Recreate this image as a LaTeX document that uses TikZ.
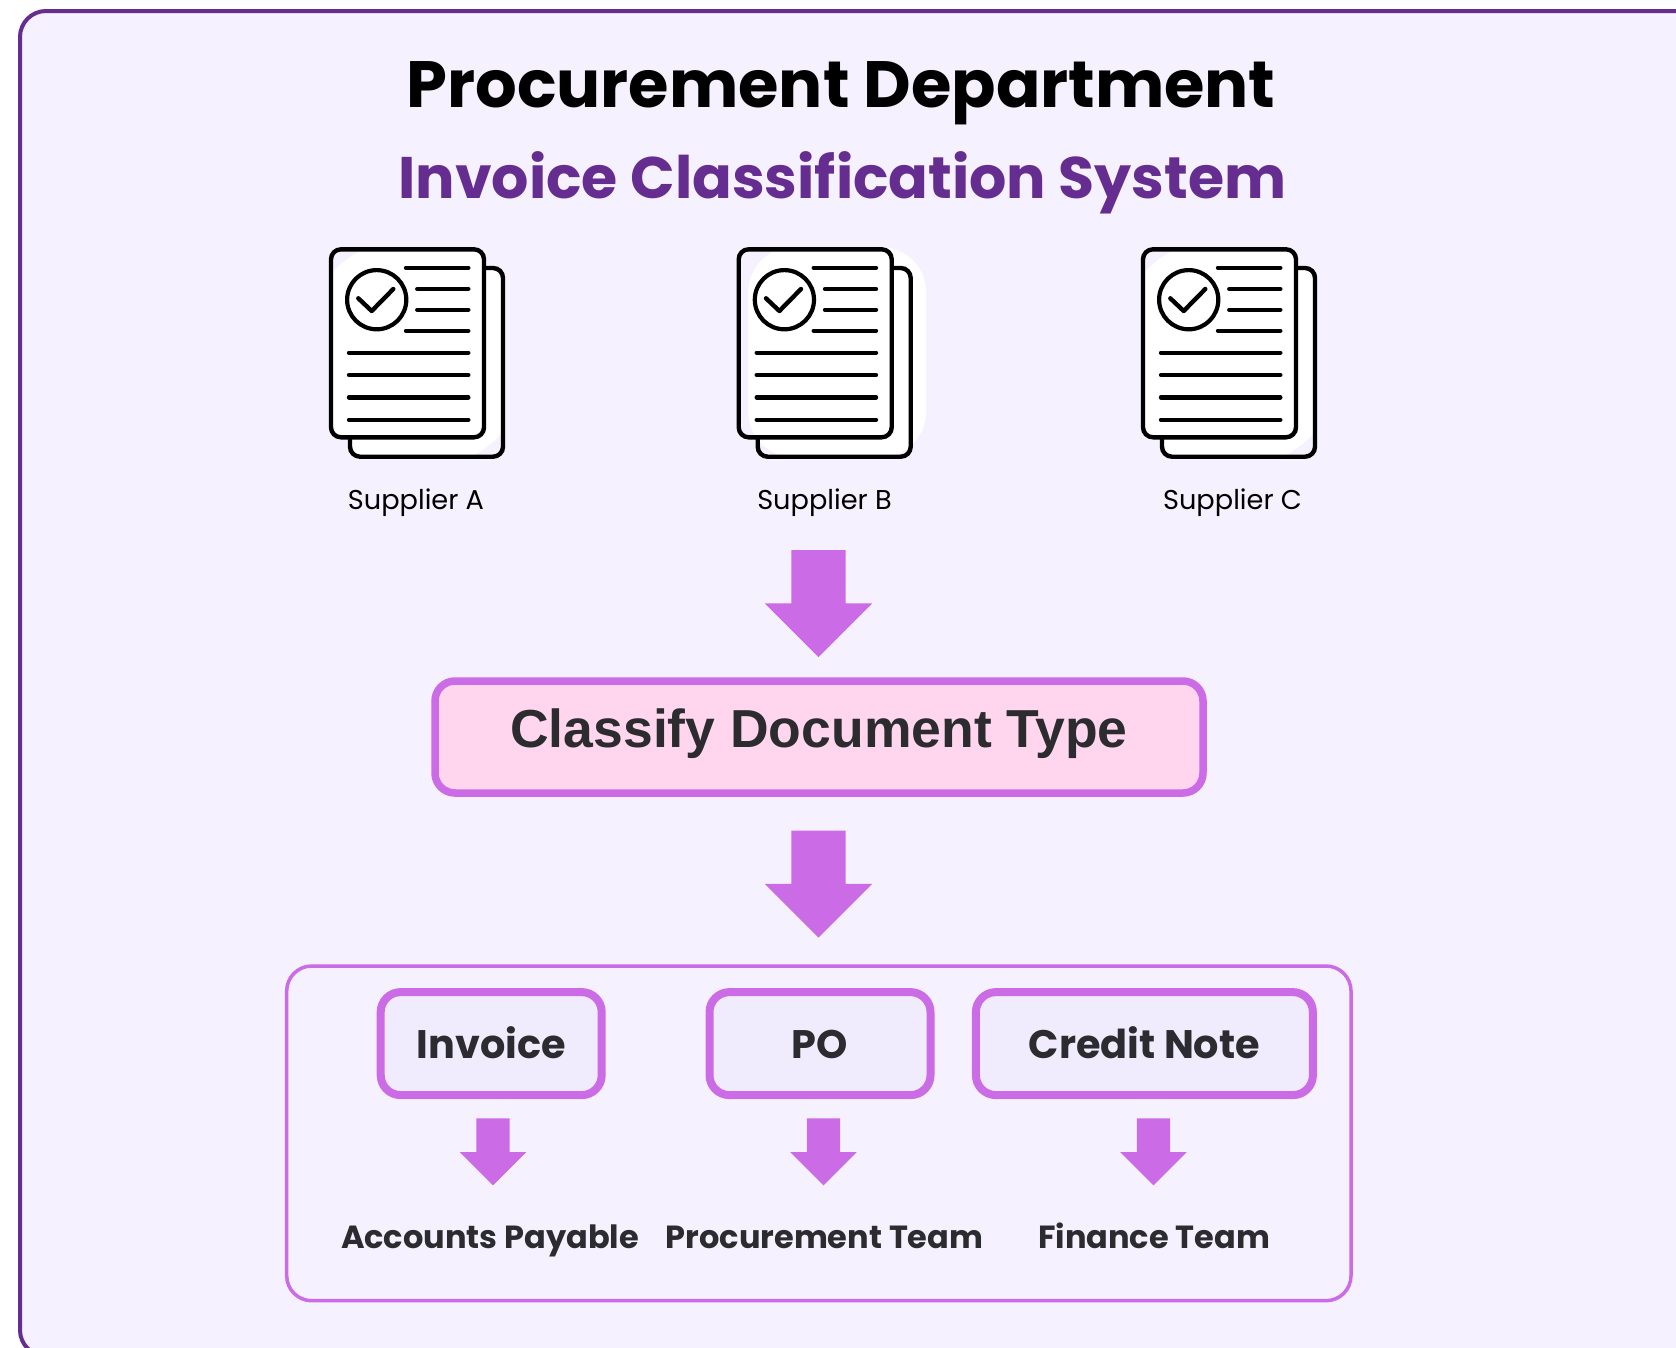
\documentclass[tikz,border=0pt]{standalone}
\usepackage{fontspec}
\newfontfamily\pop{Poppins}
\setmainfont{Liberation Sans}
\usetikzlibrary{shapes.arrows}
\definecolor{panelfill}{HTML}{F5F1FE}
\definecolor{paneledge}{HTML}{652D90}
\definecolor{orchid}{HTML}{CB6CE6}
\definecolor{pinkfill}{HTML}{FFD6EE}
\definecolor{lilacfill}{HTML}{F0ECFE}
\definecolor{ink}{HTML}{2B2B30}
\begin{document}
\begin{tikzpicture}[x=1pt, y=-1pt,
	bigarrow/.style={single arrow, fill=orchid, shape border rotate=270, inner xsep=27pt, inner ysep=0pt, outer sep=0pt, minimum height=107pt, minimum width=107pt, single arrow head extend=26.5pt, single arrow head indent=0pt},
	smallarrow/.style={single arrow, fill=orchid, shape border rotate=270, inner xsep=16.5pt, inner ysep=0pt, outer sep=0pt, minimum height=67pt, minimum width=66pt, single arrow head extend=16.5pt, single arrow head indent=0pt},
	b/.style={draw=orchid, fill=lilacfill, line width=8pt, rounded corners=20pt, minimum height=103pt, text=ink, text height=40pt, text depth=9.5pt, inner sep=0pt, font=\pop\bfseries\fontsize{39.8}{44}\selectfont},
	t/.style={anchor=base, text=ink, inner sep=0pt, font=\pop\bfseries\fontsize{32}{38}\selectfont},
	s/.style={anchor=base, text=black, inner sep=0pt, font=\pop\fontsize{27.2}{32}\selectfont},
	blob/.pic={
		\begin{scope}
			\clip[rounded corners=10pt] (1,1.3) rectangle (154,189.3) (20,20) rectangle (173,208.7);
			\fill[white] (87,105) circle (117);
		\end{scope}
	},
	sheets/.pic={
		\draw[line width=4.4pt, rounded corners=10pt] (154,20) -- (173,20) -- (173,208.7) -- (20,208.7) -- (20,189.3);
		\draw[line width=4.4pt, rounded corners=10pt] (1,1.3) rectangle (154,189.3);
		\draw[line width=4.2pt] (46.7,51.7) circle (29.6);
		\draw[line width=4.4pt, line cap=round, line join=round] (28.3,50.3) -- (41.7,63) -- (63.3,41);
		\draw[line width=4.4pt, line cap=round] (76,19.7) -- (138.3,19.7);
		\draw[line width=4.4pt, line cap=round] (87.3,41) -- (138.3,41);
		\draw[line width=4.4pt, line cap=round] (87.3,61.7) -- (138.3,61.7);
		\draw[line width=4.4pt, line cap=round] (76,82.7) -- (138.3,82.7);
		\draw[line width=4.4pt, line cap=round] (19,104.7) -- (138.3,104.7);
		\draw[line width=4.4pt, line cap=round] (19,127) -- (138.3,127);
		\draw[line width=4.4pt, line cap=round] (19,149.3) -- (138.3,149.3);
		\draw[line width=4.4pt, line cap=round] (19,171.7) -- (138.3,171.7);
	}]
	\path[use as bounding box, clip] (0,0) rectangle (1676,1347);
	\fill[white] (0,0) rectangle (1676,1347);
	\draw[draw=paneledge, fill=panelfill, line width=4pt, rounded corners=26pt] (20,11) rectangle (1720,1356);

	\node[anchor=base, inner sep=0pt, text=black, font=\pop\bfseries\fontsize{65.5}{72}\selectfont] (title) at (841,107.5) {Procurement Department};
	\node[anchor=base, inner sep=0pt, text=paneledge, font=\pop\bfseries\fontsize{58.6}{66}\selectfont] (subtitle) at (842.5,198.5) {Invoice Classification System};

	\pic (blobA) at (330,248) {blob};
	\pic (sheetA) at (330,248) {sheets};
	\fill[white, rounded corners=45pt] (748.3,247) rectangle (926,457);
	\pic (sheetB) at (737.7,248) {sheets};
	\pic (blobC) at (1142,248) {blob};
	\pic (sheetC) at (1142,248) {sheets};
	\node[s] (supplierA) at (416,509) {Supplier A};
	\node[s] (supplierB) at (824.5,509) {Supplier B};
	\node[s] (supplierC) at (1232.5,509) {Supplier C};

	\node[bigarrow] (arrowTop) at (818.5,590) {};
	\node[b, fill=pinkfill, minimum width=768pt, minimum height=112pt, line width=7.5pt, text height=40pt, text depth=19pt, font=\bfseries\fontsize{53.5}{60}\selectfont] (classify) at (819,737) {Classify Document Type};
	\node[bigarrow] (arrowMid) at (818.5,870.5) {};

	\draw[draw=orchid, line width=3.5pt, rounded corners=25pt] (286.7,966) rectangle (1351,1300.7);

	\node[b, minimum width=221pt] (invoice) at (491.2,1043.6) {Invoice};
	\node[b, minimum width=221pt] (po) at (820,1043.6) {PO};
	\node[b, minimum width=337pt] (credit) at (1144.4,1043.6) {Credit Note};

	\node[smallarrow] (arrowInvoice) at (493,1143.5) {};
	\node[smallarrow] (arrowPo) at (823.5,1143.5) {};
	\node[smallarrow] (arrowCredit) at (1153.5,1143.5) {};

	\node[t] (payable) at (490,1248.7) {Accounts Payable};
	\node[t] (team) at (824.5,1248.7) {Procurement Team};
	\node[t] (finance) at (1154,1248.7) {Finance Team};
\end{tikzpicture}
\end{document}
